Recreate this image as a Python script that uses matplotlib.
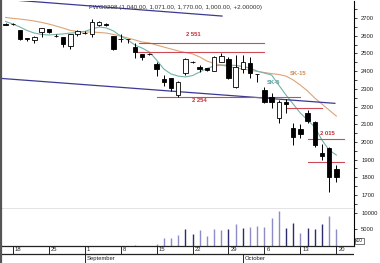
import numpy as np
import pandas as pd
import matplotlib
matplotlib.use("Agg")
import matplotlib.pyplot as plt

plt.rcParams['font.family'] = ['Liberation Sans', 'DejaVu Sans']

# ---------------- data ----------------
dates = pd.bdate_range('2008-08-15', '2008-10-20')

opens = [2668, 2665, 2632, 2586, 2576, 2623, 2636, 2600, 2591, 2543, 2608, 2616,
         2608, 2660, 2665, 2598, 2581, 2582, 2534, 2495, 2497, 2440, 2355, 2359,
         2265, 2391, 2454, 2425, 2416, 2402, 2453, 2467, 2308, 2412, 2444, 2385,
         2293, 2255, 2133, 2224, 2077, 2073, 2165, 2111, 1935, 1964, 1847]
highs = [2672, 2670, 2635, 2587, 2596, 2645, 2640, 2610, 2595, 2612, 2633, 2625,
         2693, 2684, 2672, 2600, 2608, 2584, 2557, 2498, 2503, 2453, 2378, 2362,
         2342, 2475, 2458, 2434, 2420, 2485, 2500, 2478, 2491, 2491, 2481, 2386,
         2308, 2275, 2237, 2242, 2105, 2099, 2180, 2118, 1986, 1973, 1869]
lows = [2658, 2660, 2578, 2570, 2560, 2594, 2615, 2590, 2534, 2523, 2600, 2610,
        2594, 2655, 2655, 2520, 2566, 2557, 2472, 2463, 2490, 2372, 2316, 2289,
        2255, 2378, 2448, 2395, 2400, 2400, 2450, 2355, 2303, 2388, 2359, 2340,
        2220, 2190, 2108, 2162, 1982, 2020, 2105, 1973, 1898, 1720, 1775]
closes = [2662, 2664, 2580, 2584, 2594, 2642, 2619, 2598, 2553, 2608, 2628, 2618,
          2676, 2679, 2663, 2523, 2579, 2580, 2506, 2481, 2496, 2410, 2340, 2303,
          2340, 2467, 2452, 2412, 2405, 2481, 2485, 2359, 2425, 2450, 2388, 2383,
          2227, 2227, 2227, 2212, 2029, 2045, 2120, 1982, 1922, 1800, 1803]

sk5 = [2680, 2666, 2649, 2629, 2615, 2607, 2604, 2607, 2610, 2615, 2618, 2624,
       2638, 2649, 2644, 2627, 2598, 2576, 2547, 2530, 2508, 2463, 2412, 2384,
       2372, 2367, 2375, 2395, 2415, 2429, 2434, 2434, 2432, 2426, 2417, 2400,
       2389, 2378, 2321, 2265, 2214, 2163, 2124, 2084, 2011, 1954, 1926]
sk15 = [2703, 2698, 2694, 2689, 2683, 2675, 2666, 2655, 2643, 2630, 2624, 2621,
        2621, 2618, 2615, 2607, 2598, 2587, 2576, 2564, 2559, 2547, 2536, 2525,
        2514, 2505, 2497, 2480, 2457, 2443, 2434, 2426, 2417, 2412, 2406, 2398,
        2392, 2386, 2381, 2372, 2350, 2321, 2288, 2248, 2214, 2180, 2146]

volume = [0, 0, 0, 0, 0, 0, 0, 0, 0, 0, 0, 0,
          0, 0, 0, 0, 0, 0, 150, 0, 0, 600, 2300, 2300,
          3100, 4900, 3400, 4600, 2800, 4900, 4600, 4900, 6500, 5400, 5500, 5900,
          5700, 8400, 10400, 5300, 6900, 3900, 5200, 4900, 6500, 8900, 4900]
vol_dark = [False] * 25 + [True, True, False, False, False, False, True, False, True,
            False, False, False, False, False, True, True, False, True, True, True,
            False, False]

# trend lines: (x0, x1, price0, price1) in day positions
trend_lines = [(-0.71, 30.1, 2807, 2711),
               (-0.71, 45.8, 2359, 2218)]
# horizontal levels: (start, end, price)
levels = [(18.5, 36.0, 2557), (18.3, 36.0, 2506), (21.05, 41.0, 2254),
          (39.1, 44.0, 2190), (42.1, 47.0, 2015), (42.1, 47.0, 1888)]
level_labels = [(25.1, 2607, '2 551'), (25.9, 2233, '2 254'), (43.7, 2049, '2 015')]

header = 'FWG0208 (1,040.00, 1,071.00, 1,770.00, 1,000.00, +2.00000)'

pos = np.arange(len(dates))
o = np.array(opens); h = np.array(highs); l = np.array(lows); c = np.array(closes)

# ---------------- figure ----------------
W, H = 380, 263
fig = plt.figure(figsize=(W / 100, H / 100), dpi=100)
fig.patch.set_facecolor('white')

def fx(px):
    return px / W

def fy(px):
    return 1 - px / H

xl = (-0.71, 48.46)
left_px, right_px = 0.5, 354
main_top, main_bot, vol_bot = 1, 208.5, 245.7

ax = fig.add_axes([fx(left_px), fy(main_bot), fx(right_px - left_px), (main_bot - main_top) / H])
axv = fig.add_axes([fx(left_px), fy(vol_bot), fx(right_px - left_px), (vol_bot - main_bot) / H])
axd = fig.add_axes([fx(left_px), 0, fx(right_px - left_px), fy(vol_bot)])

for a in (ax, axv, axd):
    a.set_xlim(*xl)
    a.set_xticks([])
    for s in a.spines.values():
        s.set_visible(False)
    a.spines['left'].set_visible(True)
    a.spines['left'].set_linewidth(1.6)
    a.spines['left'].set_color('#555555')

# ---- main panel ----
ax.set_ylim(1624, 2796)
ax.spines['right'].set_visible(True)
ax.spines['right'].set_linewidth(0.8)
ax.spines['bottom'].set_visible(True)
ax.spines['bottom'].set_color('#777777')
ax.spines['bottom'].set_linewidth(1.0)
ax.yaxis.tick_right()
ax.set_yticks(np.arange(1700, 2701, 100))
ax.set_yticks(np.arange(1650, 2751, 100), minor=True)
ax.tick_params(axis='y', which='both', direction='out', length=2.2, width=0.6,
               labelsize=4.2, pad=3, colors='#222222')

ax.plot(pos, sk15, color='#dca478', lw=0.8, zorder=1)
ax.plot(pos, sk5, color='#74b2aa', lw=0.8, zorder=1)

for x0, x1, p0, p1 in trend_lines:
    ax.plot([x0, x1], [p0, p1], color='#3a3a92', lw=0.9, zorder=1)
for x0, x1, p in levels:
    ax.plot([x0, x1], [p, p], color='#cc4a56', lw=0.8, zorder=1)
for x, p, t in level_labels:
    ax.text(x, p, t, color='#c0303a', fontsize=4.2, fontweight='bold',
            ha='left', va='center')
ax.text(39.6, 2384, 'SK-15', color='#d0884a', fontsize=4.2, fontweight='bold',
        ha='left', va='center')
ax.text(36.4, 2334, 'SK-5', color='#4a9a92', fontsize=4.2, fontweight='bold',
        ha='left', va='center')

up = c >= o
body_bot = np.minimum(o, c)
body_h = np.maximum(np.abs(c - o), 1.5)
ax.vlines(pos, l, h, color='black', lw=0.7, zorder=2)
ax.bar(pos, body_h, bottom=body_bot, width=0.62,
       color=np.where(up, 'white', 'black'), edgecolor='black', linewidth=0.6, zorder=3)

fig.text(fx(89), fy(7), header, fontsize=4.5, color='#333333', ha='left', va='center')

# ---- volume panel ----
axv.set_ylim(-60, 11280)
axv.spines['right'].set_visible(True)
axv.spines['right'].set_linewidth(0.8)
axv.spines['bottom'].set_visible(True)
axv.spines['bottom'].set_linewidth(0.9)
axv.spines['bottom'].set_color('#222222')
axv.yaxis.tick_right()
axv.set_yticks([5000, 10000])
axv.tick_params(axis='y', direction='out', length=2.2, width=0.6, labelsize=4.2,
                pad=3, colors='#222222')
vcol = ['#2c2c6e' if d else '#8c8cc8' for d in vol_dark]
axv.vlines(pos, 0, volume, colors=vcol, lw=1.0)
axv.text(1.004, 0.13, 'x10', transform=axv.transAxes, fontsize=3.6, ha='left',
         va='center', color='#222222',
         bbox=dict(boxstyle='square,pad=0.15', fc='white', ec='#444444', lw=0.5))

# ---- date axis ----
axd.set_ylim(263, vol_bot)
axd.set_yticks([])
axd.patch.set_alpha(0)
week_mask = dates.weekday == 0
week_pos = pos[week_mask]
week_lab = [str(d.day) for d in dates[week_mask]]
axd.vlines(week_pos, vol_bot, 254.5, color='#222222', lw=0.7)
for x, t in zip(week_pos, week_lab):
    axd.text(x + 0.3, 249.8, t, fontsize=4.2, ha='left', va='center', color='#222222')
axd.vlines(pos, vol_bot, vol_bot + 0.8, color='#555555', lw=0.4)
axd.axhline(254.5, color='#222222', lw=0.9)
month_first = [i for i in range(1, len(dates)) if dates[i].month != dates[i - 1].month]
for i in month_first:
    axd.vlines(pos[i], 254.5, 263, color='#222222', lw=0.7)
    axd.text(pos[i] + 0.3, 258.6, dates[i].strftime('%B'), fontsize=4.2,
             ha='left', va='center', color='#222222')

fig.savefig('out.png', dpi=100)
